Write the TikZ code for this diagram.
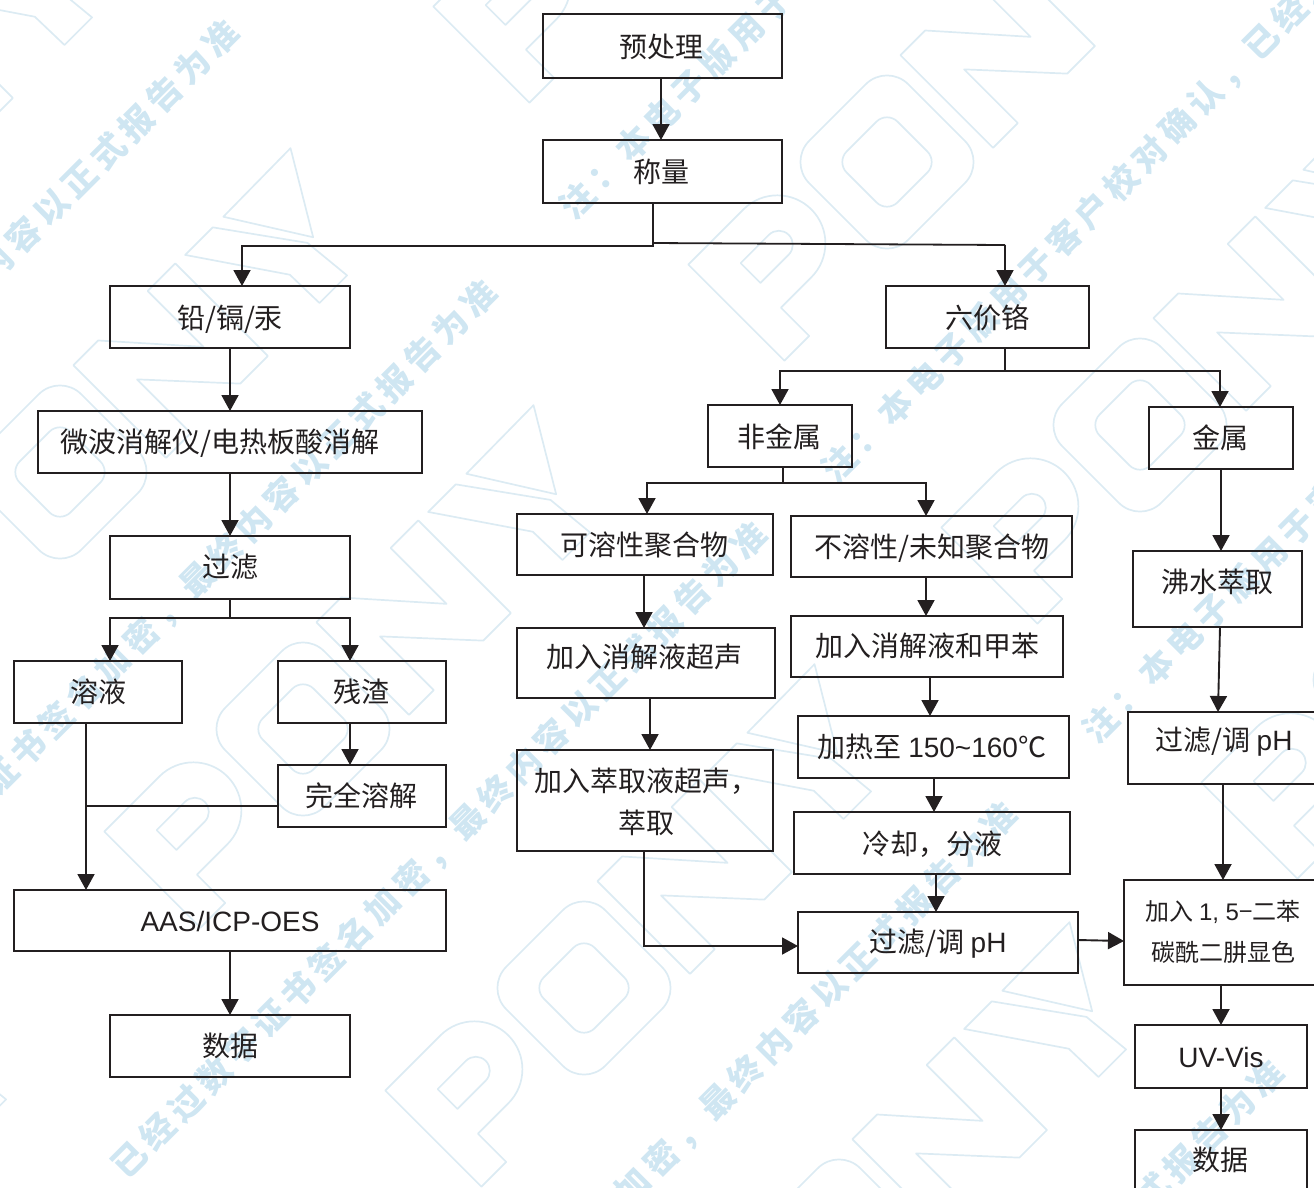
\documentclass[tikz,border=0pt]{standalone}
\usepackage{fontspec}
\setmainfont{Liberation Sans}
\newfontfamily\zhf{Noto Sans CJK SC}
\newfontfamily\wmf[LetterSpace=17]{Noto Sans CJK SC}
\usetikzlibrary{arrows.meta}
\definecolor{wmtext}{HTML}{CFE6F2}
\definecolor{wmline}{HTML}{DCEBF3}
\definecolor{ink}{HTML}{231F20}
\tikzset{
  boxs/.style={draw=ink,line width=1.8pt,rectangle,inner sep=0pt,outer sep=0pt},
  lbl/.style={text=ink,font=\zhf\fontsize{28}{33}\selectfont,inner sep=0pt,align=center},
  lblsm/.style={text=ink,font=\zhf\fontsize{24}{41}\selectfont,inner sep=0pt,align=center},
  arr/.style={draw=ink,line width=1.9pt,-{Triangle[length=16pt,width=17pt]}},
  ln/.style={draw=ink,line width=1.8pt},
  wmt/.style={text=wmtext,rotate=45,anchor=west,inner sep=0pt,font=\wmf\bfseries\fontsize{34}{34}\selectfont},
  wml/.style={draw=wmline,line width=1.7pt,line join=round},
}
\newcommand\bxb[8]{%
  \pgfmathsetmacro\bxcx{(#2+#4)/2}\pgfmathsetmacro\bxcy{(#3+#5)/2}%
  \pgfmathsetmacro\bxw{#4-#2}\pgfmathsetmacro\bxh{#5-#3}%
  \node[boxs,minimum width=\bxw pt,minimum height=\bxh pt] (#1) at (\bxcx,\bxcy) {};
  \node[lbl] (#1t) at (#6,#7) {#8};
}
% vertical arrow: from node #1 bottom at x=#2 to node #3 top at x=#4
\newcommand\vv[4]{\draw[arr] (#2,0 |- #1.south) -- (#4,0 |- #3.north);}
\newcommand\logo[2]{%
  \begin{scope}[shift={(#1,#2)},rotate=45,x=1pt,y=1pt,wml]
    \draw[wml,rounded corners=30pt] (-70,-70) rectangle (70,70);
    \draw[wml,rounded corners=15pt] (-36,-36) rectangle (36,36);
    \draw[wml] (-213,-68) -- (-213,68) -- (-135,68) arc[start angle=90,end angle=-90,radius=48] -- (-178,-28) -- (-178,-68) -- cycle;
    \draw[wml] (-175,4) -- (-175,32) -- (-135,32) arc[start angle=90,end angle=-90,radius=14] -- cycle;
    \draw[wml] (85,-65) -- (85,66) -- (120,66) -- (190,-13) -- (190,66) -- (229,66) -- (229,-65) -- (190,-65) -- (120,11) -- (120,-65) -- cycle;
    \draw[wml] (296,65) -- (392,66) -- (345,-13) -- cycle;
    \draw[wml] (242,65) -- (281,65) -- (337,-13) -- (342,-64) -- (303,-64) -- (302,-23) -- cycle;
  \end{scope}
}
\newcommand\wm[3]{\node[wmt] at (#1,#2) {#3};}
\begin{document}
\begin{tikzpicture}[x=1pt,y=-1pt]
\useasboundingbox (0,0) rectangle (1314,1187);
\clip (0,0) rectangle (1314,1187);
% watermark
\logo{887}{162}\logo{1140}{425}\logo{584}{988}\logo{303}{729}\logo{60}{472}
\logo{-195}{214}\logo{632}{-96}\logo{839}{1246}\logo{1400}{680}\logo{-281}{1296}
\wm{565}{212}{注：本电子版用于客户校对确认}
\wm{828}{476}{注：本电子版用于客户校对确认，已经过数字证书}
\wm{-152}{930}{已经过数字证书签名加密，最终内容以正式报告为准}
\wm{118}{1172}{已经过数字证书签名加密，最终内容以正式报告为准}
\wm{368}{1452}{已经过数字证书签名加密，最终内容以正式报告为准}
\wm{1088}{736}{注：本电子版用于客户校对确认}
\wm{635}{1710}{已经过数字证书签名加密，最终内容以正式报告为准}
\wm{-410}{670}{已经过数字证书签名加密，最终内容以正式报告为准}
% boxes
\bxb{pre}{543}{14}{782}{78}{661}{47}{预处理}
\bxb{wei}{543}{140}{782}{203}{661}{172}{称量}
\bxb{pb}{110}{286}{350}{348}{230}{319}{铅/镉/汞}
\bxb{mw}{38}{411}{422}{473}{220}{443}{微波消解仪/电热板酸消解}
\bxb{fil}{110}{536}{350}{599}{230}{567}{过滤}
\bxb{sol}{14}{661}{182}{723}{98}{692}{溶液}
\bxb{res}{278}{661}{446}{723}{361}{692}{残渣}
\bxb{dis}{278}{765}{446}{827}{361}{796}{完全溶解}
\bxb{aas}{14}{890}{446}{951}{230}{921}{\fontspec{Liberation Sans}\fontsize{28}{32}\selectfont AAS/ICP-OES}
\bxb{dat}{110}{1015}{350}{1077}{230}{1046}{数据}
\bxb{cr}{886}{286}{1089}{348}{987}{318}{六价铬}
\bxb{non}{708}{405}{852}{467}{779}{437}{非金属}
\bxb{met}{1149}{407}{1293}{469}{1220}{438}{金属}
\bxb{sp}{517}{514}{773}{575}{644}{545}{可溶性聚合物}
\bxb{isp}{791}{516}{1072}{577}{932}{548}{不溶性/未知聚合物}
\bxb{boil}{1133}{551}{1302}{627}{1217}{582}{沸水萃取}
\bxb{ult}{517}{628}{775}{698}{644}{657}{加入消解液超声}
\bxb{tol}{791}{616}{1063}{677}{927}{646}{加入消解液和甲苯}
\bxb{ext}{517}{750}{773}{851}{646}{802}{加入萃取液超声，\\[9pt]萃取}
\bxb{heat}{798}{716}{1069}{778}{932}{747}{加热至 {\fontspec{Liberation Sans}150\textasciitilde160}℃}
\bxb{cool}{794}{812}{1070}{874}{932}{844}{冷却，分液}
\bxb{fph}{798}{912}{1078}{973}{938}{944}{过滤/调 {\fontspec{Liberation Sans}pH}}
\bxb{fph2}{1128}{712}{1325}{784}{1224}{742}{过滤/调 {\fontspec{Liberation Sans}pH}}
\node[boxs,minimum width=201pt,minimum height=105pt] (dpc) at (1224.5,932.5) {};
\node[lblsm] (dpct) at (1223,932) {加入 {\fontspec{Liberation Sans}1, 5}−二苯\\碳酰二肼显色};
\bxb{uv}{1135}{1025}{1307}{1088}{1221}{1057}{\fontspec{Liberation Sans}\fontsize{28}{32}\selectfont UV-Vis}
\bxb{dat2}{1135}{1130}{1307}{1205}{1220}{1160}{数据}
% junctions
\coordinate (j1) at (653,246);
\coordinate (j1b) at (653,243);
\coordinate (j2) at (1005,245);
\coordinate (j3) at (230,618);
\coordinate (j4) at (86,806);
\coordinate (j5) at (1005,371);
\coordinate (j6) at (783,483);
\coordinate (j7) at (644,946);
% connectors
\vv{pre}{661}{wei}{661}
\draw[arr] (653,0 |- wei.south) -- (j1) -- (242,246) -- (242,0 |- pb.north);
\draw[ln] (j1b) -- (j2);
\draw[arr] (j2) -- (1005,0 |- cr.north);
\vv{pb}{230}{mw}{230}
\vv{mw}{230}{fil}{230}
\draw[ln] (230,0 |- fil.south) -- (j3);
\draw[arr] (j3) -- (110,618) -- (110,0 |- sol.north);
\draw[arr] (j3) -- (350,618) -- (350,0 |- res.north);
\vv{res}{350}{dis}{350}
\vv{sol}{86}{aas}{86}
\draw[ln] (dis.west |- j4) -- (j4);
\vv{aas}{230}{dat}{230}
\draw[ln] (1005,0 |- cr.south) -- (j5);
\draw[arr] (j5) -- (780,371) -- (780,0 |- non.north);
\draw[arr] (j5) -- (1220,371) -- (1220,0 |- met.north);
\draw[ln] (783,0 |- non.south) -- (j6);
\draw[arr] (j6) -- (647,483) -- (647,0 |- sp.north);
\draw[arr] (j6) -- (926,483) -- (926,0 |- isp.north);
\vv{met}{1221}{boil}{1221}
\vv{boil}{1220}{fph2}{1218}
\vv{fph2}{1223}{dpc}{1223}
\vv{dpc}{1221}{uv}{1221}
\vv{uv}{1221}{dat2}{1221}
\vv{sp}{644}{ult}{644}
\vv{ult}{650}{ext}{650}
\draw[arr] (644,0 |- ext.south) -- (j7) -- (fph.west |- j7);
\vv{isp}{926}{tol}{926}
\vv{tol}{930}{heat}{930}
\vv{heat}{934}{cool}{934}
\vv{cool}{936}{fph}{936}
\draw[arr] (fph.east |- 0,940) -- (dpc.west |- 0,941);
\end{tikzpicture}
\end{document}
